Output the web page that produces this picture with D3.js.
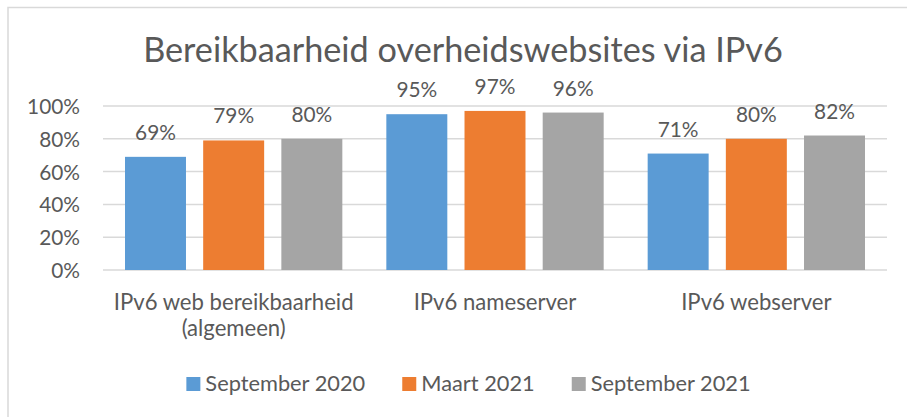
<!DOCTYPE html>
<html>
<head>
<meta charset="utf-8">
<script src="https://cdn.jsdelivr.net/npm/d3@7"></script>
<style>
  html, body { margin: 0; padding: 0; background: #fff; }
  svg { display: block; }
  text { font-family: Lato, "Open Sans", sans-serif; fill: #595959; }
</style>
</head>
<body>
<svg id="chart" width="907" height="417"></svg>
<script>
const title = "Bereikbaarheid overheidswebsites via IPv6";
const categories = [["IPv6 web bereikbaarheid", "(algemeen)"], ["IPv6 nameserver"], ["IPv6 webserver"]];
const seriesNames = ["September 2020", "Maart 2021", "September 2021"];
const sep2020 = [0.69, 0.95, 0.71];
const maart2021 = [0.79, 0.97, 0.80];
const sep2021 = [0.80, 0.96, 0.82];
const seriesValues = [sep2020, maart2021, sep2021];
const colors = ["#5B9BD5", "#ED7D31", "#A5A5A5"];
const yTicks = [0, 0.2, 0.4, 0.6, 0.8, 1.0];

const svg = d3.select("#chart");

// chart border (only top and left visible in the reference)
svg.append("rect").attr("x", 8).attr("y", 7.5).attr("width", 940).attr("height", 450)
  .attr("fill", "#fff").attr("stroke", "#d9d9d9").attr("stroke-width", 1.5);

// helper: fit font size so a sample string reaches a target width
function fitSize(sample, targetWidth, base) {
  const t = svg.append("text").attr("font-size", base).text(sample);
  const w = t.node().getComputedTextLength();
  t.remove();
  return base * targetWidth / w;
}
const titleSize = fitSize(title, 640, 30);
const labelSize = fitSize("IPv6 web bereikbaarheid", 240, 20);
const legendSize = fitSize("September 2020", 160, 20);
const tickSize = fitSize("100%", 53, 20);

const plot = { left: 103, right: 887, top: 106, bottom: 270 };

const x0 = d3.scaleBand().domain(d3.range(categories.length))
  .range([plot.left, plot.right]).paddingInner(0).paddingOuter(0);
const groupPad = 22;
const x1 = d3.scaleBand().domain(d3.range(seriesNames.length))
  .range([groupPad, x0.bandwidth() - groupPad]).paddingInner(0.22).paddingOuter(0);
const y = d3.scaleLinear().domain([0, 1]).range([plot.bottom, plot.top]);

// gridlines
svg.append("g").selectAll("line").data(yTicks).join("line")
  .attr("x1", plot.left).attr("x2", plot.right)
  .attr("y1", d => y(d)).attr("y2", d => y(d))
  .attr("stroke", "#d9d9d9").attr("stroke-width", 1.5);

// y axis labels
const yAxis = d3.axisLeft(y).tickValues(yTicks).tickFormat(d3.format(".0%")).tickSize(0).tickPadding(0);
const yg = svg.append("g").attr("transform", `translate(80,0)`).call(yAxis);
yg.select(".domain").remove();
yg.selectAll("text").attr("font-size", tickSize).attr("fill", "#595959")
  .attr("font-family", "Lato, 'Open Sans', sans-serif").attr("dy", "0.36em");

// bars
const groups = svg.append("g").selectAll("g").data(categories).join("g")
  .attr("transform", (d, i) => `translate(${x0(i)},0)`);

groups.each(function(cat, ci) {
  const g = d3.select(this);
  const vals = seriesValues.map((s, si) => ({ si, v: s[ci] }));
  g.selectAll("rect").data(vals).join("rect")
    .attr("x", d => x1(d.si)).attr("width", x1.bandwidth())
    .attr("y", d => y(d.v)).attr("height", d => y(0) - y(d.v))
    .attr("fill", d => colors[d.si]);
  g.selectAll("text.lbl").data(vals).join("text").attr("class", "lbl")
    .attr("x", d => x1(d.si) + x1.bandwidth() / 2)
    .attr("y", d => y(d.v) - 17)
    .attr("text-anchor", "middle").attr("font-size", tickSize)
    .text(d => d3.format(".0%")(d.v));
});

// category labels
const catG = svg.append("g").selectAll("text").data(categories).join("text")
  .attr("x", (d, i) => x0(i) + x0.bandwidth() / 2)
  .attr("y", 310)
  .attr("text-anchor", "middle").attr("font-size", labelSize);
catG.selectAll("tspan").data(d => d).join("tspan")
  .attr("x", function() { return d3.select(this.parentNode).attr("x"); })
  .attr("dy", (d, i) => i === 0 ? 0 : 26)
  .text(d => d);

// title
svg.append("text").attr("x", 463).attr("y", 61.5).attr("text-anchor", "middle")
  .attr("font-size", titleSize).text(title);

// legend
const legend = svg.append("g");
let lx = 0;
seriesNames.forEach((name, i) => {
  const g = legend.append("g").attr("transform", `translate(${lx},0)`);
  g.append("rect").attr("x", 0).attr("y", 377).attr("width", 14).attr("height", 14).attr("fill", colors[i]);
  const t = g.append("text").attr("x", 19).attr("y", 390.5).attr("font-size", legendSize).text(name);
  const w = t.node().getComputedTextLength();
  lx += 19 + w + 37;
});
const totalW = lx - 37;
legend.attr("transform", `translate(${468.5 - totalW / 2},0)`);
</script>
</body>
</html>
